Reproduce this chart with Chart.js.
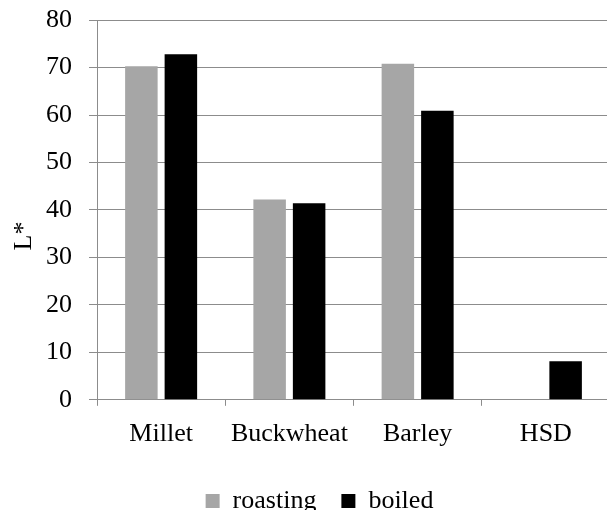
<!DOCTYPE html>
<html>
<head>
<meta charset="utf-8">
<script src="https://cdn.jsdelivr.net/npm/chart.js@4/dist/chart.umd.min.js"></script>
<style>
    html, body { margin: 0; padding: 0; background: #fff; overflow: hidden; }
    #wrap { width: 607px; height: 510px; overflow: hidden; }
    #lstar-chart { display: block; margin-top: -6px; }
</style>
</head>
<body>
<div id="wrap"><canvas id="lstar-chart" width="613" height="530"></canvas></div>
<script>
// Values
const categories = ['Millet', 'Buckwheat', 'Barley', 'HSD'];
const roasting = [70.3, 42.2, 70.8, null];
const boiled = [72.8, 41.4, 60.9, 8.1];
const yTicks = [0, 10, 20, 30, 40, 50, 60, 70, 80];
const yTitle = 'L*';

const serif = '"Liberation Serif", "Times New Roman", serif';
Chart.defaults.font.family = serif;
Chart.defaults.color = '#000';

// y axis title drawn by hand so it can sit a bit below the middle, like the original
const yTitlePlugin = {
    id: 'yTitle',
    afterDraw(chart) {
        const ctx = chart.ctx;
        const area = chart.chartArea;
        ctx.save();
        ctx.translate(31, (area.top + area.bottom) / 2 + 26);
        ctx.rotate(-Math.PI / 2);
        ctx.font = '26px ' + serif;
        ctx.fillStyle = '#000';
        ctx.textAlign = 'center';
        ctx.textBaseline = 'alphabetic';
        ctx.fillText(yTitle, 0, 0);
        ctx.restore();
    }
};

const ctx = document.getElementById('lstar-chart').getContext('2d');
new Chart(ctx, {
    type: 'bar',
    data: {
        labels: categories,
        datasets: [
            {
                label: 'roasting',
                data: roasting,
                backgroundColor: '#a6a6a6',
                borderWidth: 0
            },
            {
                label: 'boiled',
                data: boiled,
                backgroundColor: '#000000',
                borderWidth: 0
            }
        ]
    },
    options: {
        responsive: false,
        animation: false,
        categoryPercentage: 0.616,
        barPercentage: 0.823,
        layout: {
            padding: { left: 29, right: 3, top: 0, bottom: 0 }
        },
        plugins: {
            tooltip: { enabled: false },
            legend: {
                position: 'bottom',
                labels: {
                    color: '#000',
                    font: { family: serif, size: 26 },
                    boxWidth: 14,
                    boxHeight: 14,
                    padding: 25
                }
            }
        },
        scales: {
            x: {
                grid: {
                    offset: true,
                    drawOnChartArea: false,
                    tickLength: 6,
                    color: '#8c8c8c'
                },
                border: { color: '#8c8c8c' },
                ticks: {
                    color: '#000',
                    padding: 13,
                    font: { family: serif, size: 26 }
                }
            },
            y: {
                min: 0,
                max: 80,
                afterBuildTicks: axis => {
                    axis.ticks = yTicks.map(v => ({ value: v }));
                },
                grid: {
                    tickLength: 8,
                    color: '#8c8c8c'
                },
                border: { color: '#8c8c8c' },
                ticks: {
                    color: '#000',
                    padding: 17,
                    font: { family: serif, size: 26, lineHeight: 0.7 }
                }
            }
        }
    },
    plugins: [yTitlePlugin]
});
</script>
</body>
</html>
